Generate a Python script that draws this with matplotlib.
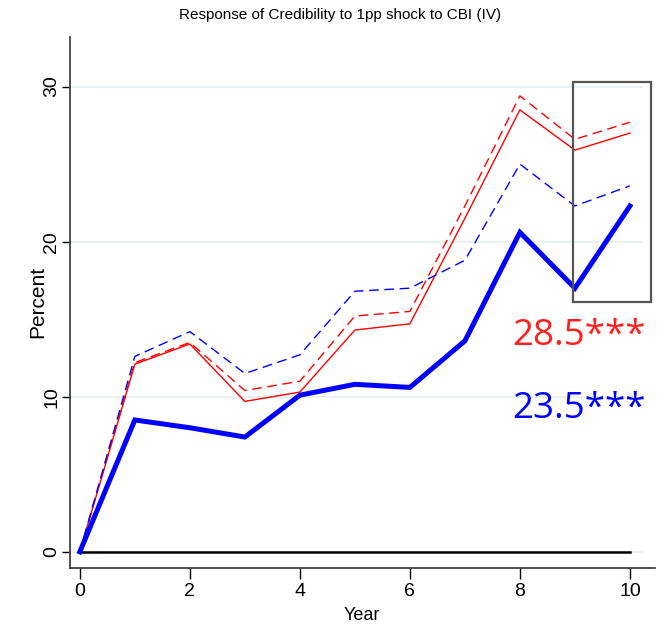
import matplotlib
matplotlib.use("Agg")
import matplotlib.pyplot as plt
from matplotlib.patches import Rectangle

years = [0, 1, 2, 3, 4, 5, 6, 7, 8, 9, 10]
iv_main = [0, 8.5, 8.0, 7.4, 10.1, 10.8, 10.6, 13.6, 20.6, 17.0, 22.3]
iv_main_dash = [0, 12.6, 14.2, 11.5, 12.7, 16.8, 17.0, 18.8, 25.0, 22.3, 23.6]
red_solid = [0, 12.1, 13.4, 9.7, 10.3, 14.3, 14.7, 21.5, 28.5, 25.9, 27.0]
red_dash = [0, 12.2, 13.5, 10.4, 11.0, 15.2, 15.5, 22.3, 29.4, 26.6, 27.7]
xticks = [0, 2, 4, 6, 8, 10]
yticks = [0, 10, 20, 30]
label_red = "28.5***"
label_blue = "23.5***"

sans = ['Liberation Sans', 'DejaVu Sans']
anno = ['Open Sans', 'DejaVu Sans']

fig = plt.figure(figsize=(6.66, 6.26), dpi=100)
ax = fig.add_axes([0.105, 0.093, 0.878, 0.848])
ax.set_xlim(-0.18, 10.45)
ax.set_ylim(-1.03, 33.2)

for y in yticks:
    ax.plot([-0.18, 10.22], [y, y], color='#e9f1f3', lw=1.5, zorder=1)
ax.plot([0, 10], [0, 0], color='black', lw=1.8, zorder=2)

ax.plot(years, red_dash, color='red', lw=1.0, dashes=(7, 4), zorder=3)
ax.plot(years, red_solid, color='red', lw=1.0, zorder=3)
ax.plot(years, iv_main_dash, color='blue', lw=1.0, dashes=(7, 4), zorder=3)
ax.plot(years, iv_main, color='blue', lw=3.6, zorder=4, solid_joinstyle='miter')

ax.add_patch(Rectangle((8.96, 16.1), 10.38 - 8.96, 30.3 - 16.1, fill=False,
                       edgecolor='#555555', lw=1.6, zorder=5))

ax.text(10.29, 13.9, label_red, color='#ff2020', fontsize=26.5, family=anno,
        ha='right', va='center')
ax.text(10.29, 9.2, label_blue, color='blue', fontsize=26.5, family=anno,
        ha='right', va='center')

ax.spines['top'].set_visible(False)
ax.spines['right'].set_visible(False)
for s in ['left', 'bottom']:
    ax.spines[s].set_color('#333333')
    ax.spines[s].set_linewidth(1.2)

ax.set_xticks(xticks)
ax.set_yticks(yticks)
ax.tick_params(axis='x', length=8, width=1, direction='out', pad=3)
ax.tick_params(axis='y', length=6, width=1, direction='out', pad=1)
for lab in ax.get_xticklabels():
    lab.set_family(sans)
    lab.set_fontsize(14)
for lab in ax.get_yticklabels():
    lab.set_family(sans)
    lab.set_fontsize(14)
    lab.set_rotation(90)
    lab.set_va('center')

ax.set_xlabel("Year", family=sans, fontsize=13, labelpad=5)
ax.set_ylabel("Percent", family=sans, fontsize=15, labelpad=-3)
fig.text(0.511, 0.976, "Response of Credibility to 1pp shock to CBI (IV)", family=sans,
         fontsize=11, ha='center', va='center')

fig.savefig("out.png", dpi=100)
